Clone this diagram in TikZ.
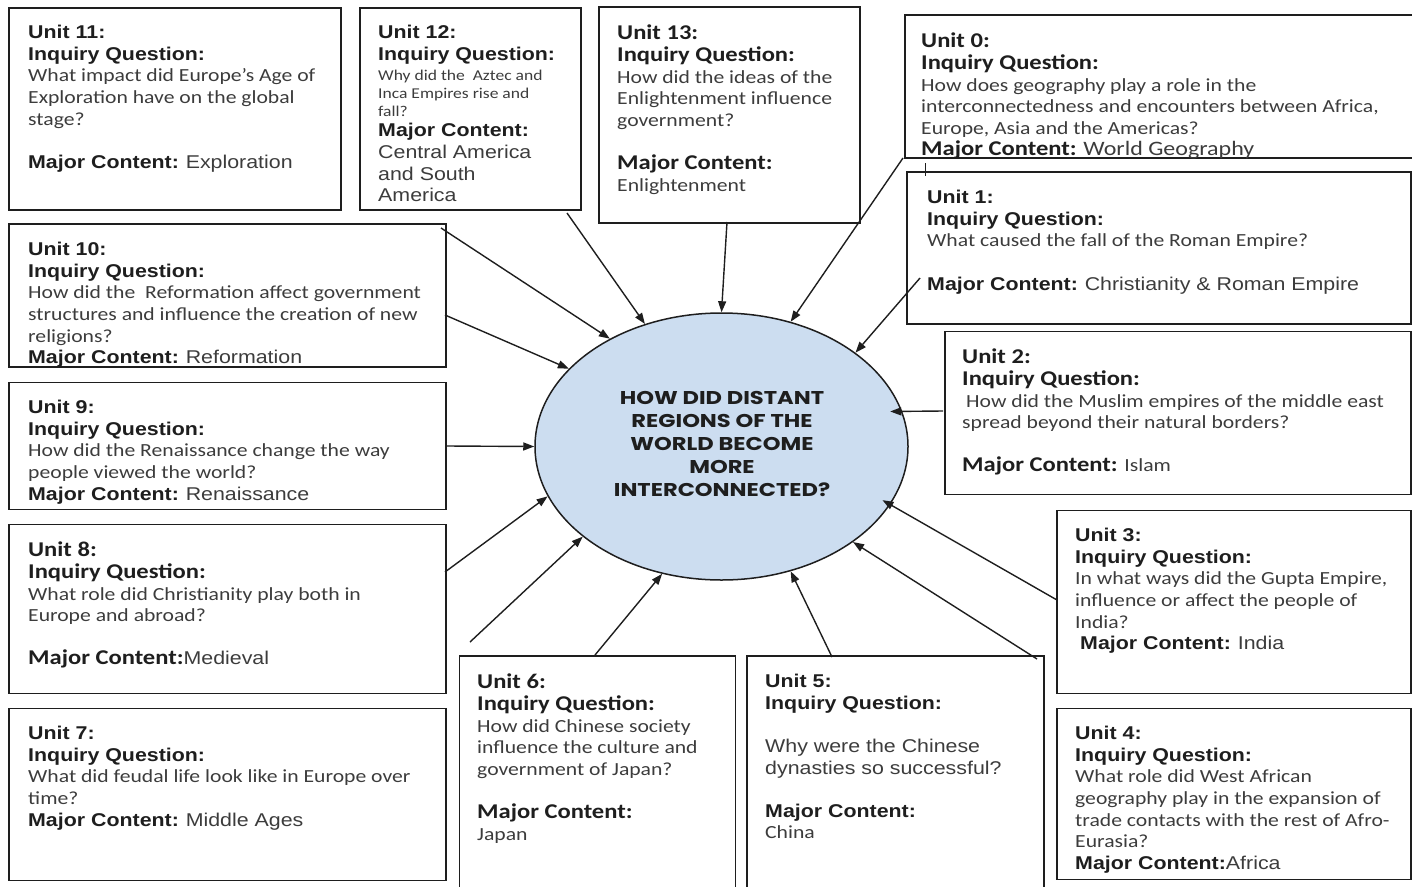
\documentclass[tikz,border=0pt]{standalone}
\usepackage{fontspec}
\setmainfont{Liberation Sans}
\newfontfamily\ar{Liberation Sans}[FakeStretch=1.155]
\newfontfamily\ca{Carlito}[FakeStretch=1.17]
\newfontfamily\gothic{Poppins}[FakeStretch=1.22]
\usetikzlibrary{arrows.meta,shapes.geometric}
\definecolor{ink}{RGB}{30,30,30}
\definecolor{qtext}{RGB}{60,60,60}
\definecolor{elfill}{RGB}{204,221,240}
\newcommand\fHB{\ar\bfseries\color{ink}}
\newcommand\fHR{\ar}
\newcommand\fCB{\ca\bfseries\fontsize{21}{21.6}\selectfont\color{ink}}
\newcommand\fCR{\ca}
\newcommand\fCL{\ca\fontsize{20.5}{21.6}\selectfont}
\newcommand\fCS{\ca\fontsize{15}{18}\selectfont}
\begin{document}
\begin{tikzpicture}[x=1pt,y=-1pt,
  ubox/.style={draw=ink, line width=1.7pt, anchor=north west, inner sep=0pt},
  txt/.style={anchor=north west, inner sep=0pt, align=left, text=qtext, font=\fontsize{18.5}{21.6}\selectfont},
  arr/.style={draw=ink, line width=1.4pt, -{Triangle[length=11pt,width=8pt]}}]
\useasboundingbox (0,0) rectangle (1412,886);

% boxes
\node[ubox, minimum width=332pt, minimum height=202pt] (b11) at (8,7) {};
\node[ubox, minimum width=221pt, minimum height=202pt] (b12) at (359,7) {};
\node[ubox, minimum width=261pt, minimum height=216pt] (b13) at (598,6) {};
\node[ubox, minimum width=512pt, minimum height=143pt] (b0) at (904,14) {};
\node[ubox, minimum width=504pt, minimum height=152pt] (b1) at (906,171) {};
\node[ubox, minimum width=437pt, minimum height=143pt] (b10) at (8,223) {};
\node[ubox, minimum width=437pt, minimum height=127pt] (b9) at (8,381.5) {};
\node[ubox, minimum width=466pt, minimum height=163pt] (b2) at (944,330.5) {};
\node[ubox, minimum width=437pt, minimum height=169pt] (b8) at (8,523.5) {};
\node[ubox, minimum width=354pt, minimum height=183pt] (b3) at (1056,509.5) {};
\node[ubox, minimum width=437pt, minimum height=172pt] (b7) at (8,707.5) {};
\node[ubox, minimum width=276pt, minimum height=232pt] (b6) at (458.5,655) {};
\node[ubox, minimum width=297pt, minimum height=232pt] (b5) at (746,655) {};
\node[ubox, minimum width=354pt, minimum height=171pt] (b4) at (1056,707.5) {};

% central ellipse
\node[ellipse, draw=ink, line width=1.5pt, fill=elfill, minimum width=373pt, minimum height=267pt, inner sep=0pt] (el) at (721.5,446.5) {};
\node[align=center, text=ink, inner sep=0pt, font=\gothic\bfseries\fontsize{18.5}{23}\selectfont] (q) at (722,444)
  {HOW DID DISTANT\\REGIONS OF THE\\WORLD BECOME\\MORE\\INTERCONNECTED?};

% texts
\node[txt] (t11) at (28,25) {{\fHB Unit 11:}\\{\fHB Inquiry Question:}\\{\fCR What impact did Europe’s Age of}\\{\fCR Exploration have on the global}\\{\fCR stage?}\\[21.6pt]{\fHB Major Content:} {\fHR Exploration}};
\node[txt] (t12) at (378,25) {{\fHB Unit 12:}\\{\fHB Inquiry Question:}\\[-1.6pt]{\fCS Why did the\ \ Aztec and}\\[-3.6pt]{\fCS Inca Empires rise and}\\[-3.6pt]{\fCS fall?}\\[-1pt]{\fHB Major Content:}\\{\fHR Central America}\\{\fHR and South}\\{\fHR America}};
\node[txt] (t13) at (617,25) {{\fCB Unit 13:}\\{\fCB Inquiry Question:}\\{\fCR How did the ideas of the}\\{\fCR Enlightenment influence}\\{\fCR government?}\\[21.6pt]{\fCB Major Content:}\\{\fCR Enlightenment}};
\node[txt] (t0) at (921,33) {{\fCB Unit 0:}\\{\fCB Inquiry Question:}\\{\fCR How does geography play a role in the}\\{\fCR interconnectedness and encounters between Africa,}\\{\fCR Europe, Asia and the Americas?}\\{\fCB Major Content:} {\fCL World Geography}};
\node[txt] (t1) at (927,190) {{\fHB Unit 1:}\\{\fHB Inquiry Question:}\\{\fCR What caused the fall of the Roman Empire?}\\[21.6pt]{\fHB Major Content:} {\fHR Christianity \& Roman Empire}};
\node[txt] (t10) at (28,242) {{\fHB Unit 10:}\\{\fHB Inquiry Question:}\\{\fCR How did the\ \ Reformation affect government}\\{\fCR structures and influence the creation of new}\\{\fCR religions?}\\{\fHB Major Content:} {\fHR Reformation}};
\node[txt] (t9) at (28,400) {{\fHB Unit 9:}\\{\fHB Inquiry Question:}\\{\fCR How did the Renaissance change the way}\\{\fCR people viewed the world?}\\{\fHB Major Content:} {\fHR Renaissance}};
\node[txt] (t2) at (962,349) {{\fCB Unit 2:}\\{\fCB Inquiry Question:}\\{\fCR\hspace{4pt}How did the Muslim empires of the middle east}\\{\fCR spread beyond their natural borders?}\\[21.6pt]{\fCB Major Content:} {\fCR Islam}};
\node[txt] (t8) at (28,542) {{\fCB Unit 8:}\\{\fCB Inquiry Question:}\\{\fCR What role did Christianity play both in}\\{\fCR Europe and abroad?}\\[21.6pt]{\fCB Major Content:}{\fHR Medieval}};
\node[txt] (t3) at (1075,528) {{\fHB Unit 3:}\\{\fHB Inquiry Question:}\\{\fCR In what ways did the Gupta Empire,}\\{\fCR influence or affect the people of}\\{\fCR India?}\\\hspace{5pt}{\fHB Major Content:} {\fHR India}};
\node[txt] (t7) at (28,726) {{\fHB Unit 7:}\\{\fHB Inquiry Question:}\\{\fCR What did feudal life look like in Europe over}\\{\fCR time?}\\{\fHB Major Content:} {\fHR Middle Ages}};
\node[txt] (t6) at (477,674) {{\fCB Unit 6:}\\{\fCB Inquiry Question:}\\{\fCR How did Chinese society}\\{\fCR influence the culture and}\\{\fCR government of Japan?}\\[21.6pt]{\fCB Major Content:}\\{\fCR Japan}};
\node[txt] (t5) at (765,674) {{\fHB Unit 5:}\\{\fHB Inquiry Question:}\\[21.6pt]{\fHR Why were the Chinese}\\{\fHR dynasties so successful?}\\[21.6pt]{\fHB Major Content:}\\{\fCR China}};
\node[txt] (t4) at (1075,726) {{\fHB Unit 4:}\\{\fHB Inquiry Question:}\\{\fCR What role did West African}\\{\fCR geography play in the expansion of}\\{\fCR trade contacts with the rest of Afro-}\\{\fCR Eurasia?}\\{\fHB Major Content:}{\fHR Africa}};

% connector start points
\coordinate (s10a) at (441,228);
\coordinate (s10b) at (445,315);
\coordinate (s12) at (567,213);
\coordinate (s13) at (727,222);
\coordinate (s0) at (903,158);
\coordinate (s1) at (920,278);
\coordinate (s2) at (943,411);
\coordinate (s3a) at (1057,600);
\coordinate (s3b) at (1037,659);
\coordinate (s5) at (832,657);
\coordinate (s6) at (595,655);
\coordinate (sf) at (470,642);
\coordinate (s8) at (445,572);
\coordinate (s9) at (447,446);

\draw[arr] (s10a) -- (el.136.5);
\draw[arr] (s10b) -- (el.153.5);
\draw[arr] (s12) -- (el.122.4);
\draw[arr] (s13) -- (el.90);
\draw[arr] (s0) -- (el.61.2);
\draw[arr] (s1) -- (el.35.5);
\draw[arr, shorten >=-12pt] (s2) -- (el.11.1);
\draw[arr, shorten >=-9pt] (s3a) -- (el.-19.7);
\draw[arr] (s3b) -- (el.-36);
\draw[arr] (s5) -- (el.-61.4);
\draw[arr] (s6) -- (el.-115.3);
\draw[arr] (sf) -- (el.-147.4);
\draw[arr] (s8) -- (el.-164.6);
\draw[arr] (s9) -- (el.180);

% small cursor mark under Unit 0
\draw[ink, line width=1pt] (925,163) -- (925,176);
\end{tikzpicture}
\end{document}
